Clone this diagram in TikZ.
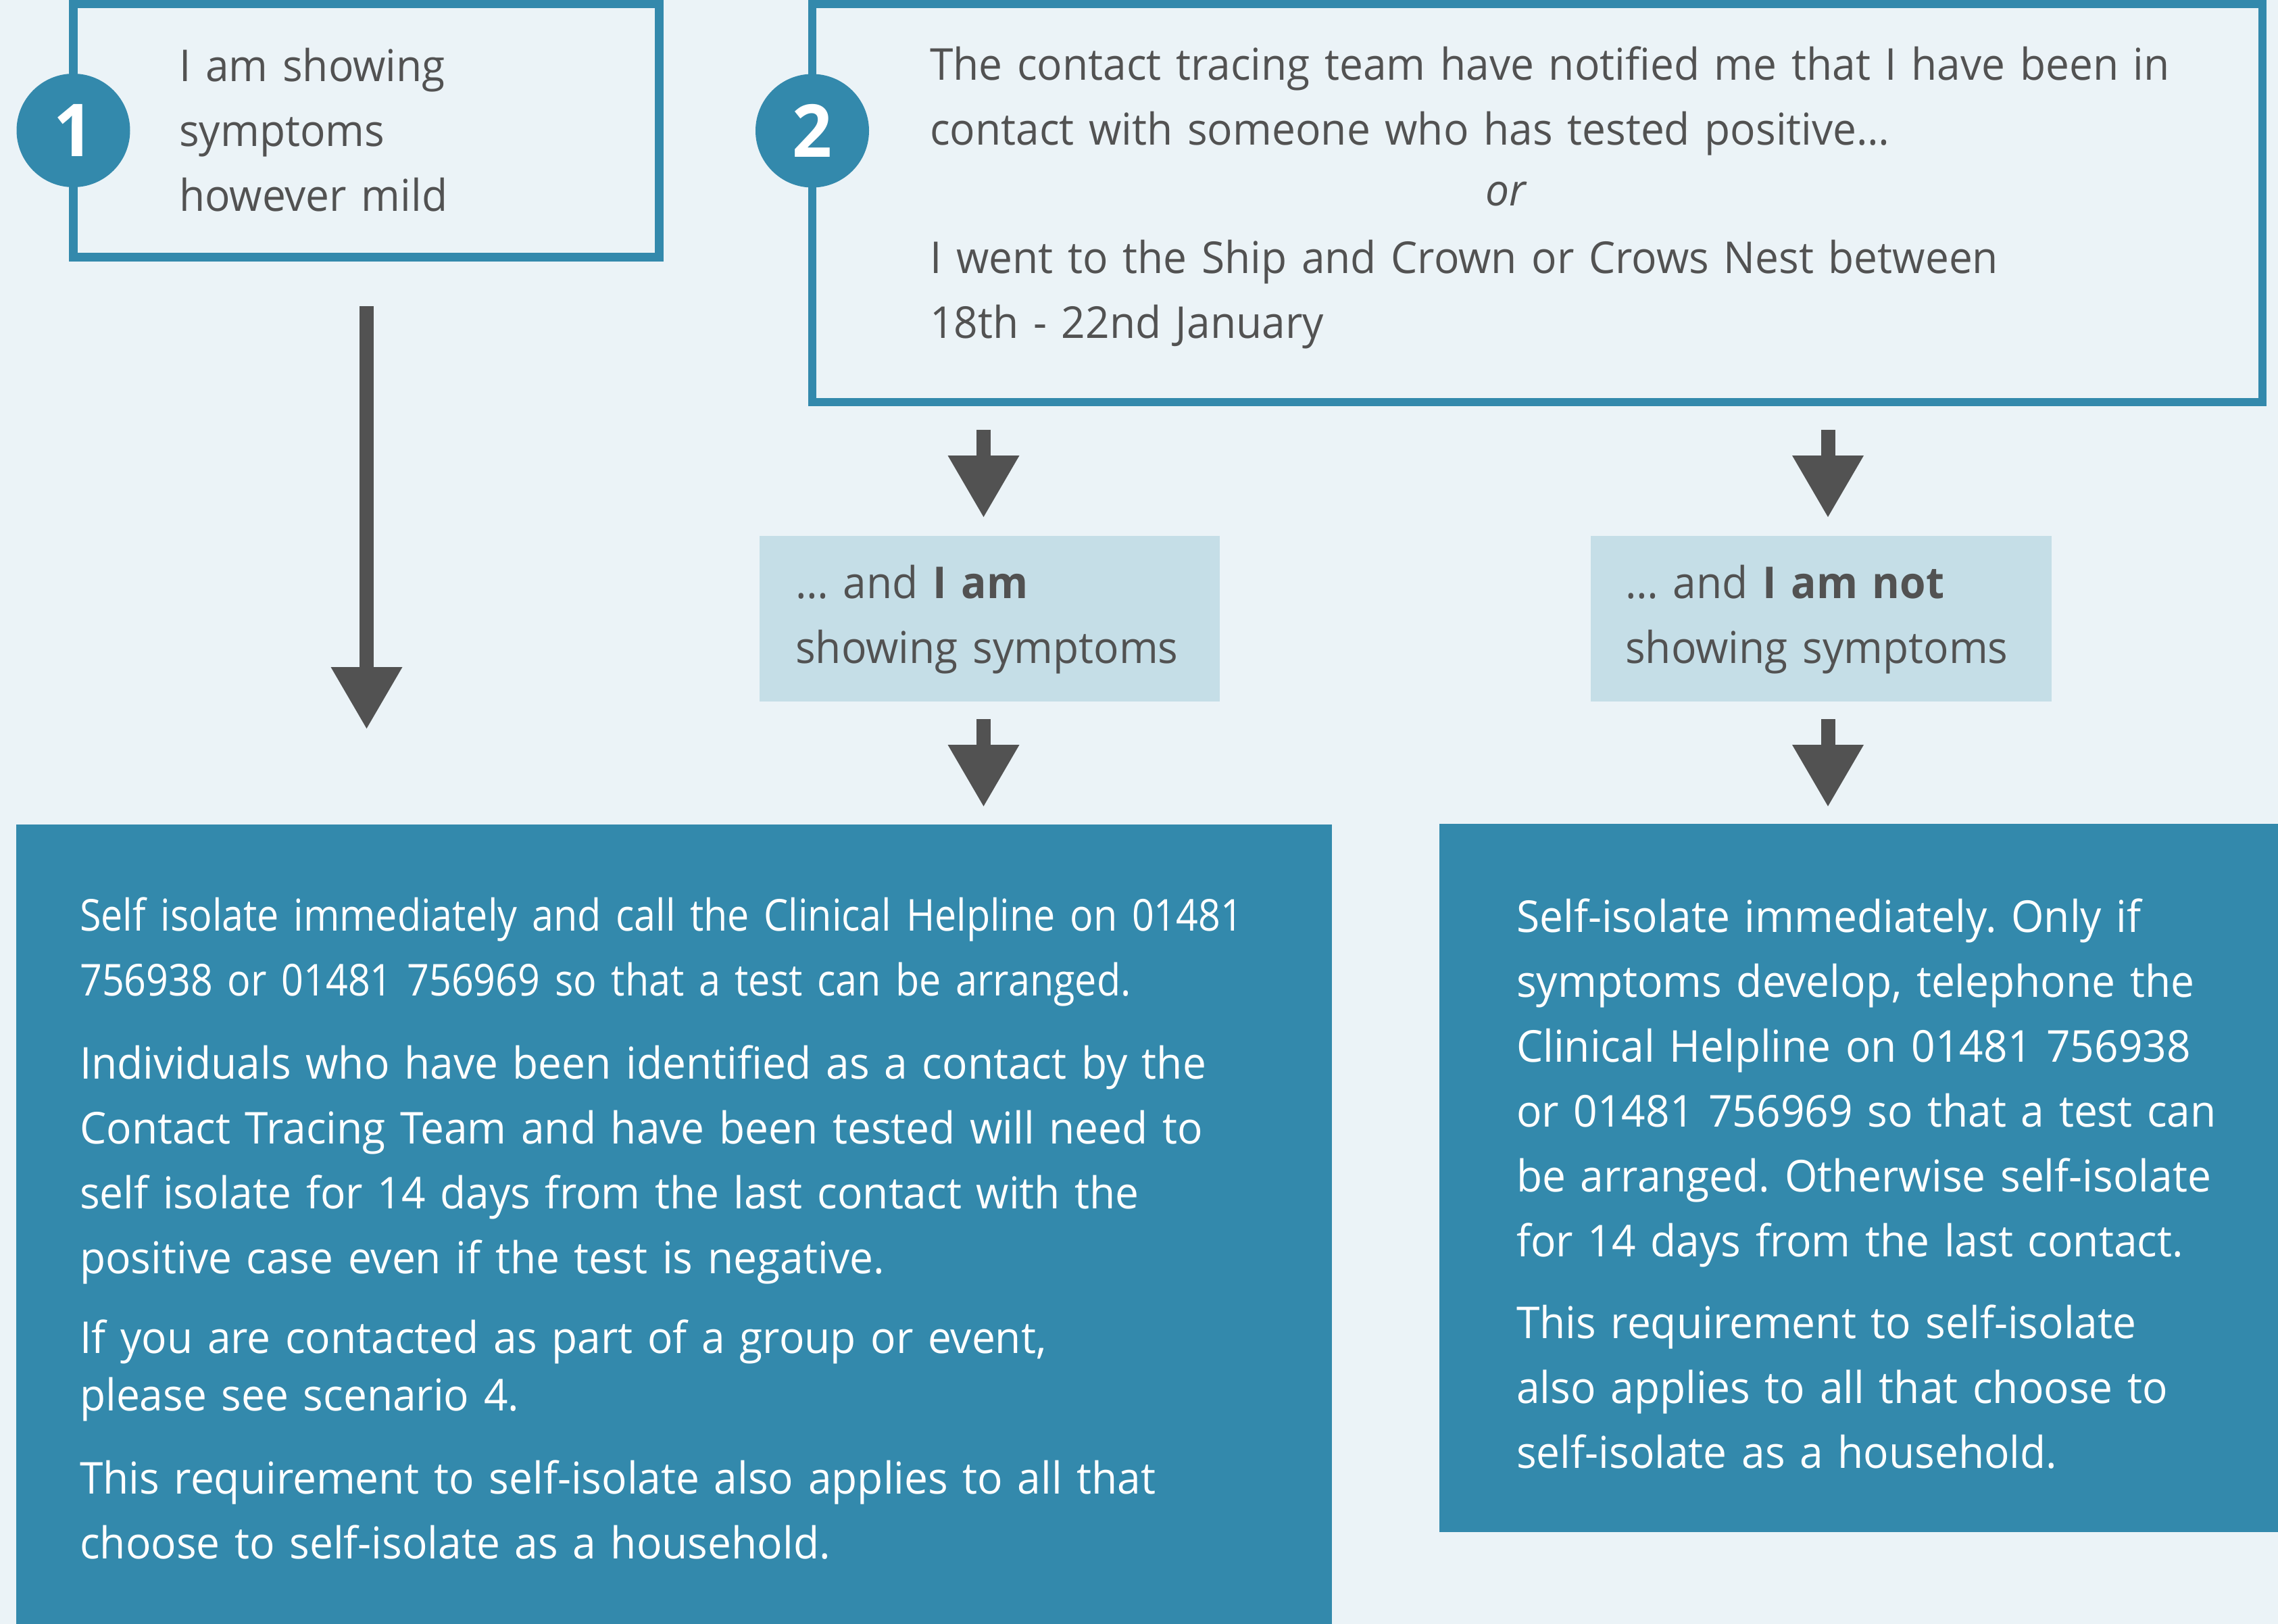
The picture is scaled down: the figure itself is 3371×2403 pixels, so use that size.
\documentclass[tikz,border=0pt]{standalone}
\usepackage{fontspec}
\setmainfont{Open Sans}[FakeStretch=0.957]
\newfontfamily\narrowfont{Open Sans}[FakeStretch=0.883]
\frenchspacing
\usetikzlibrary{arrows.meta}
\definecolor{pagebg}{HTML}{EBF3F7}
\definecolor{tealc}{HTML}{3389AC}
\definecolor{lightc}{HTML}{C5DEE7}
\definecolor{textc}{HTML}{525252}
\definecolor{arrowc}{HTML}{525252}
\tikzset{
  outline/.style={rectangle, draw=tealc, line width=12.5pt, fill=pagebg, inner sep=0pt},
  lightbox/.style={rectangle, fill=lightc, draw=none, inner sep=0pt},
  darkbox/.style={rectangle, fill=tealc, draw=none, inner sep=0pt},
  numdisc/.style={circle, fill=tealc, minimum size=168pt, inner sep=0pt, text=white, font=\fontsize{108}{108}\selectfont\bfseries},
  bodytext/.style={inner sep=0pt, anchor=base west, align=left, text=textc, font=\fontsize{65}{96}\selectfont\frenchspacing},
  whitetext/.style={bodytext, text=white},
  bigarrow/.style={draw=arrowc, line width=21pt, -{Triangle[length=91pt,width=106pt,line width=0pt]}},
}
\begin{document}
\begin{tikzpicture}[x=1pt,y=-1pt]
\fill[pagebg] (0,0) rectangle (3371,2403);
\useasboundingbox (0,0) rectangle (3371,2403);

% box 1
\node[outline, minimum width=867pt, minimum height=374.5pt] (b1) at (542,193.25) {};
\node[numdisc] (n1) at (108.5,193) {1};
\node[bodytext, text width=700pt] (t1) at (265,121) {I am showing\\symptoms\\however mild};

% box 2
\node[outline, minimum width=2146pt, minimum height=589pt] (b2) at (2275,300.5) {};
\node[numdisc] (n2) at (1202,193.5) {2};
\node[bodytext, text width=1950pt] (t2a) at (1376,119) {The contact tracing team have notified me that I have been in\\contact with someone who has tested positive…};
\node[inner sep=0pt, anchor=base, text=textc, font=\fontsize{65}{96}\selectfont\itshape] (or) at (2228,304) {or};
\node[bodytext, text width=1950pt] (t2b) at (1376,404) {I went to the Ship and Crown or Crows Nest between\\18th - 22nd January};

% light boxes
\node[lightbox, minimum width=681pt, minimum height=245pt] (l1) at (1464.5,915.5) {};
\node[bodytext, text width=640pt] (tl1) at (1177,885) {… and \textbf{I am}\\showing symptoms};
\node[lightbox, minimum width=682pt, minimum height=245pt] (l2) at (2695,915.5) {};
\node[bodytext, text width=640pt] (tl2) at (2405,885) {… and \textbf{I am not}\\showing symptoms};

% dark boxes
\node[darkbox, minimum width=1947pt, minimum height=1183pt] (d1) at (997.5,1811.5) {};
\node[darkbox, minimum width=1241pt, minimum height=1048pt] (d2) at (2750.5,1743) {};

\node[whitetext, text width=1950pt, font=\narrowfont\fontsize{65}{96}\selectfont\frenchspacing] (p1) at (118,1377) {Self isolate immediately and call the Clinical Helpline on 01481\\756938 or 01481 756969 so that a test can be arranged.};
\node[whitetext, text width=1950pt] (p2) at (118,1596) {Individuals who have been identified as a contact by the\\Contact Tracing Team and have been tested will need to\\self isolate for 14 days from the last contact with the\\positive case even if the test is negative.};
\node[whitetext, text width=1950pt, font=\fontsize{65}{85}\selectfont\frenchspacing] (p3) at (118,2002) {If you are contacted as part of a group or event,\\please see scenario 4.};
\node[whitetext, text width=1950pt] (p4) at (118,2210) {This requirement to self-isolate also applies to all that\\choose to self-isolate as a household.};

\node[whitetext, text width=1200pt] (q1) at (2244,1379) {Self-isolate immediately. Only if\\symptoms develop, telephone the\\Clinical Helpline on 01481 756938\\or 01481 756969 so that a test can\\be arranged. Otherwise self-isolate\\for 14 days from the last contact.};
\node[whitetext, text width=1200pt] (q2) at (2244,1980) {This requirement to self-isolate\\also applies to all that choose to\\self-isolate as a household.};

% arrows
\coordinate (a1s) at (542.5,453);  \coordinate (a1e) at (542.5,1078);
\coordinate (a2s) at (1455.5,636); \coordinate (a2e) at (1455.5,765);
\coordinate (a3s) at (1455.5,1064); \coordinate (a3e) at (1455.5,1193);
\coordinate (a4s) at (2705,636);   \coordinate (a4e) at (2705,765);
\coordinate (a5s) at (2705,1064);  \coordinate (a5e) at (2705,1193);
\draw[bigarrow] (a1s) -- (a1e);
\draw[bigarrow] (a2s) -- (a2e);
\draw[bigarrow] (a3s) -- (a3e);
\draw[bigarrow] (a4s) -- (a4e);
\draw[bigarrow] (a5s) -- (a5e);
\end{tikzpicture}
\end{document}
